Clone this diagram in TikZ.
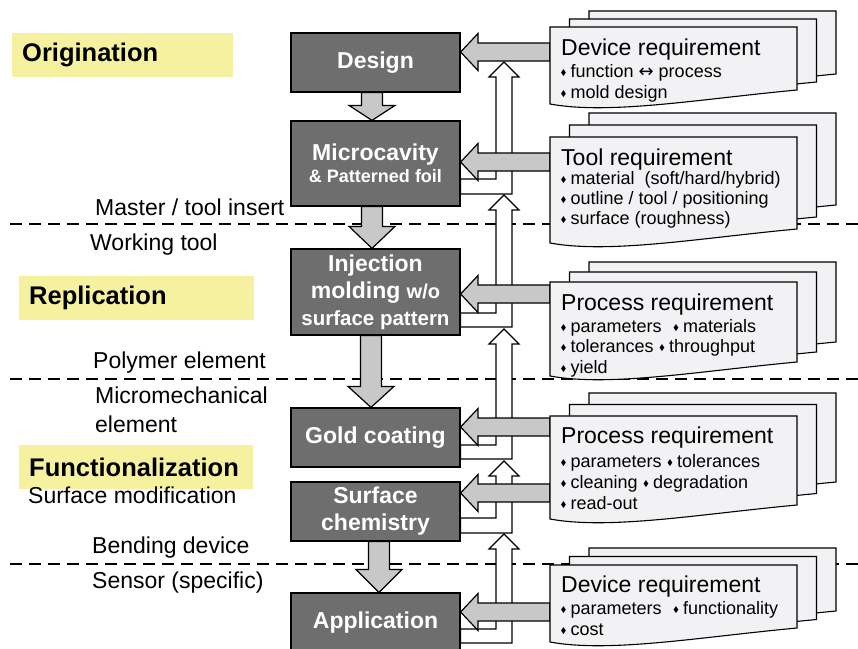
\documentclass[tikz,border=0pt]{standalone}
\usepackage{fontspec}
\setmainfont{Liberation Sans}
\newfontfamily\symfont{DejaVu Sans}
\definecolor{boxgray}{RGB}{110,110,110}
\definecolor{arrowgray}{RGB}{200,200,200}
\definecolor{sheetgray}{RGB}{242,242,244}
\definecolor{phaseyellow}{RGB}{246,241,158}

\newcommand\dia{{\symfont\fontsize{8.5}{8.5}\selectfont\raisebox{1.5pt}{\scalebox{0.75}[1.1]{◆}}}\hspace{4.5pt}}

% stack of three sheets: front top, front bottom (right), step
\newcommand\reqstack[3]{%
  \foreach \s in {2,1}
    \draw[sheet] (550+19.5*\s,#1-#3*\s) -- (797+19.5*\s,#1-#3*\s) -- (797+19.5*\s,#2-#3*\s)
      .. controls (700+19.5*\s,#2+9-#3*\s) and (610+19.5*\s,#2+25-#3*\s) .. (550+19.5*\s,#2+14-#3*\s) -- cycle;
  \draw[sheet] (550,#1) -- (797,#1) -- (797,#2) .. controls (700,#2+9) and (610,#2+25) .. (550,#2+14) -- cycle;
}
\newcommand\reqarrow[2]{%
  \draw[garrow] (550,#2-9) -- (478,#2-9) -- (478,#2-18.5) -- (#1.east |- 0,#2)
    -- (478,#2+18.5) -- (478,#2+9) -- (550,#2+9) -- cycle;
}
\newcommand\dnarr[4]{%
  \path (#3,0 |- #1.south) coordinate (s) (#3,0 |- #2.north) coordinate (t);
  \draw[garrow] ([xshift=-10.5pt]s) -- ([xshift=10.5pt]s) -- ([xshift=10.5pt,yshift=#4]t)
    -- ([xshift=23pt,yshift=#4]t) -- (t) -- ([xshift=-23pt,yshift=#4]t) -- ([xshift=-10.5pt,yshift=#4]t) -- cycle;
}

\begin{document}
\begin{tikzpicture}[x=1pt,y=-1pt,
    box/.style={draw=black,line width=1.2pt,fill=boxgray,text=white,font=\bfseries\fontsize{23}{27}\selectfont,minimum width=169pt,align=center,inner sep=0pt},
    garrow/.style={draw=black,line width=1.2pt,fill=arrowgray},
    warrow/.style={draw=black,line width=1.2pt,fill=white},
    sheet/.style={draw=black,line width=1.1pt,fill=sheetgray},
    phase/.style={fill=phaseyellow,anchor=west,font=\bfseries\fontsize{25.5}{28}\selectfont,minimum height=44pt,inner xsep=10pt,inner ysep=0pt},
    stage/.style={anchor=base west,inner sep=0pt,font=\fontsize{23}{26}\selectfont},
    reqhead/.style={anchor=base west,inner sep=0pt,font=\fontsize{23}{26}\selectfont},
    reqitem/.style={anchor=base west,inner sep=0pt,font=\fontsize{18}{20}\selectfont},
    border/.style={dash pattern=on 12pt off 7pt,line width=1.4pt}]
  \useasboundingbox (0,0) rectangle (858,648);

  \foreach \y in {224,379,564}
    \draw[border] (10,\y) -- (858,\y);

  \node[phase,text width=201pt] at (12,55) (orig) {Origination};
  \node[phase,text width=215pt] at (19,298) (repl) {Replication};
  \node[phase,text width=214pt] at (19,467) (func) {Functionalization};

  \node[stage] at (95,215) (master) {Master / tool insert};
  \node[stage] at (90,250) (working) {Working tool};
  \node[stage] at (93,368) (polymer) {Polymer element};
  \node[stage] at (95,403) (micro) {Micromechanical};
  \node[stage] at (95,432) (element) {element};
  \node[stage] at (28,503) (surfmod) {Surface modification};
  \node[stage] at (92,553) (bending) {Bending device};
  \node[stage] at (92,588) (sensor) {Sensor (specific)};

  \node[box,minimum height=59pt] at (375.5,62.5) (dsn) {Design};
  \node[box,minimum height=85pt] at (375.5,163.5) (mcv) {Microcavity\\[-5pt]{\fontsize{18}{20}\selectfont\& Patterned foil}};
  \node[box,minimum height=86pt] at (375.5,292) (inj) {Injection\\molding {\fontsize{20}{22}\selectfont w/o}\\{\fontsize{20.5}{22}\selectfont surface pattern}};
  \node[box,minimum height=59pt] at (375.5,437.5) (gld) {Gold coating};
  \node[box,minimum height=59pt] at (375.5,511.5) (srf) {Surface\\chemistry};
  \node[box,minimum height=59pt] at (375.5,622.5) (app) {Application};

  \foreach \b/\yt/\yb/\tip in {mcv/179/194/62,inj/313/327/195,gld/445/459/329,srf/518/533/461,app/629/643/534}
    \draw[warrow] (\b.east |- 0,\yt) -- (496,\yt) -- (496,\tip+15) -- (489,\tip+15) -- (504,\tip)
      -- (519,\tip+15) -- (512,\tip+15) -- (512,\yb) -- (\b.east |- 0,\yb) -- cycle;

  \reqarrow{dsn}{52}
  \reqarrow{mcv}{162}
  \reqarrow{inj}{294}
  \reqarrow{gld}{427}
  \reqarrow{srf}{493}
  \reqarrow{app}{612}

  \dnarr{dsn}{mcv}{372}{15pt}
  \dnarr{mcv}{inj}{372}{22pt}
  \dnarr{inj}{gld}{371}{21pt}
  \dnarr{srf}{app}{379}{23pt}

  \reqstack{27}{90}{8}
  \reqstack{137}{229}{12}
  \reqstack{282}{362}{10}
  \reqstack{416}{505}{11.5}
  \reqstack{565}{628}{8.5}

  \node[reqhead] at (561,55) (dev1) {Device requirement};
  \node[reqitem] at (561,77) (dev1a) {\dia function {\symfont ↔} process};
  \node[reqitem] at (561,98) (dev1b) {\dia mold design};

  \node[reqhead] at (561,165) (tool) {Tool requirement};
  \node[reqitem] at (561,184) (toola) {\dia material\ \ (soft/hard/hybrid)};
  \node[reqitem] at (561,204) (toolb) {\dia outline / tool / positioning};
  \node[reqitem] at (561,224) (toolc) {\dia surface (roughness)};

  \node[reqhead] at (561,310) (proc1) {Process requirement};
  \node[reqitem] at (561,332) (proc1a) {\dia parameters\hspace{12pt}\dia materials};
  \node[reqitem] at (561,352) (proc1b) {\dia tolerances\hspace{6pt}\dia throughput};
  \node[reqitem] at (561,373) (proc1c) {\dia yield};

  \node[reqhead] at (561,443) (proc2) {Process requirement};
  \node[reqitem] at (561,467) (proc2a) {\dia parameters\hspace{6pt}\dia tolerances};
  \node[reqitem] at (561,488) (proc2b) {\dia cleaning\hspace{6pt}\dia degradation};
  \node[reqitem] at (561,509) (proc2c) {\dia read-out};

  \node[reqhead] at (561,592) (dev2) {Device requirement};
  \node[reqitem] at (561,614) (dev2a) {\dia parameters\hspace{12pt}\dia functionality};
  \node[reqitem] at (561,635) (dev2b) {\dia cost};
\end{tikzpicture}
\end{document}
